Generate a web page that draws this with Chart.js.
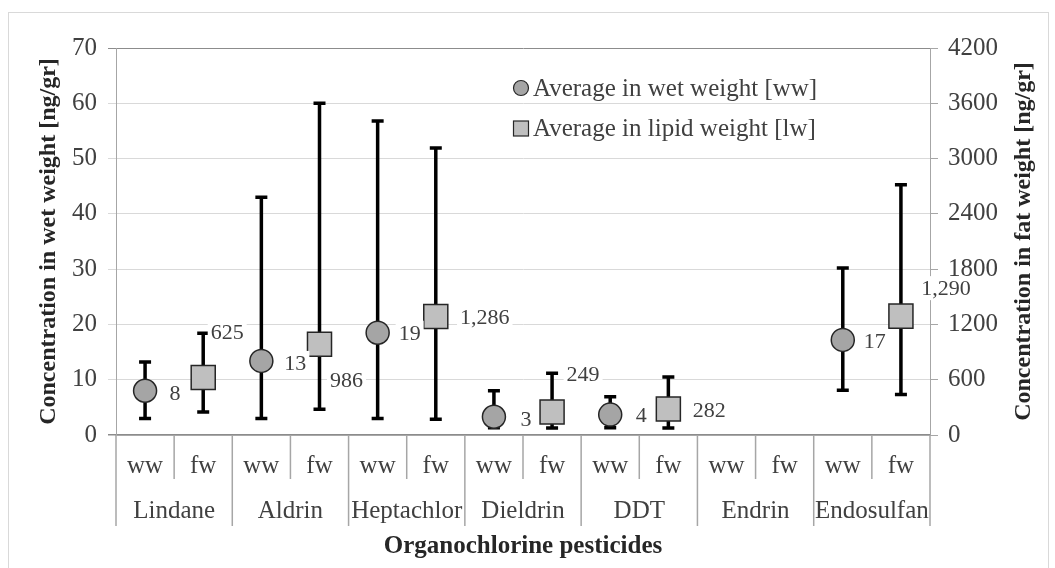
<!DOCTYPE html>
<html>
<head>
<meta charset="utf-8">
<script src="https://cdn.jsdelivr.net/npm/chart.js@4.4.1/dist/chart.umd.min.js"></script>
<style>
  html, body { margin: 0; padding: 0; background: #fff; overflow: hidden; }
  #wrap { position: relative; width: 1055px; height: 568px; }
  #frame { position: absolute; left: 8px; top: 12px; width: 1041px; height: 600px; border: 1.5px solid #d9d9d9; box-sizing: border-box; }
  #c { position: absolute; left: 0; top: 0; }
</style>
</head>
<body>
<div id="wrap">
  <div id="frame"></div>
  <canvas id="c" width="1055" height="568"></canvas>
</div>
<script>
// pesticides and the two sub categories
const groups = ['Lindane', 'Aldrin', 'Heptachlor', 'Dieldrin', 'DDT', 'Endrin', 'Endosulfan'];
const subCats = ['ww', 'fw'];

// wet weight (left axis, ng/gr)
const wwAvg = [8, 13.4, 18.5, 3.3, 3.7, null, 17.2];
const wwMin = [3, 3, 3, 1.3, 1.3, null, 8.1];
const wwMax = [13.2, 43, 56.8, 8, 6.9, null, 30.2];

// lipid / fat weight (right axis, ng/gr)
const lwAvg = [625, 986, 1286, 249, 282, null, 1290];
const lwMin = [250, 280, 170, 75, 75, null, 440];
const lwMax = [1105, 3600, 3115, 670, 630, null, 2715];

// where the value labels sit relative to their marker (dx, dy)
const wwLabelOffsets = [[30, 2], [34, 2], [32, 0], [32, 2], [31, 1], null, [32, 1]];
const lwLabelOffsets = [[24, -45], [27, 36], [49, 1], [31, -38], [41, 1], null, [45, -28]];

const SERIF = '"Liberation Serif", "Times New Roman", serif';
const TXT = '#404040';

const labels = [];
const wwData = [];
const lwData = [];
groups.forEach((g, i) => {
  subCats.forEach(s => labels.push(s));
  wwData.push(wwAvg[i], null);
  lwData.push(null, lwAvg[i]);
});

const fmt = v => Math.round(v).toLocaleString('en-US');

const errorBars = {
  id: 'errorBars',
  beforeDatasetsDraw(chart) {
    const ctx = chart.ctx;
    const x = chart.scales.x;
    const sets = [
      { off: 0, sc: chart.scales.y, min: wwMin, max: wwMax },
      { off: 1, sc: chart.scales.y1, min: lwMin, max: lwMax }
    ];
    ctx.save();
    ctx.strokeStyle = '#000';
    ctx.lineWidth = 3.5;
    sets.forEach(s => {
      groups.forEach((g, i) => {
        if (s.min[i] == null) return;
        const px = x.getPixelForValue(i * 2 + s.off);
        const yt = s.sc.getPixelForValue(s.max[i]);
        const yb = s.sc.getPixelForValue(s.min[i]);
        ctx.beginPath();
        ctx.moveTo(px, yt); ctx.lineTo(px, yb);
        ctx.moveTo(px - 6, yt); ctx.lineTo(px + 6, yt);
        ctx.moveTo(px - 6, yb); ctx.lineTo(px + 6, yb);
        ctx.stroke();
      });
    });
    ctx.restore();
  }
};

const valueLabels = {
  id: 'valueLabels',
  afterDatasetsDraw(chart) {
    const ctx = chart.ctx;
    const x = chart.scales.x;
    const sets = [
      { off: 0, sc: chart.scales.y, vals: wwAvg, offs: wwLabelOffsets },
      { off: 1, sc: chart.scales.y1, vals: lwAvg, offs: lwLabelOffsets }
    ];
    ctx.save();
    ctx.font = '22px ' + SERIF;
    ctx.textAlign = 'center';
    ctx.textBaseline = 'middle';
    sets.forEach(s => {
      s.vals.forEach((v, i) => {
        if (v == null) return;
        const t = fmt(v);
        const px = x.getPixelForValue(i * 2 + s.off) + s.offs[i][0];
        const py = s.sc.getPixelForValue(v) + s.offs[i][1];
        const w = ctx.measureText(t).width;
        ctx.fillStyle = '#fff';
        ctx.fillRect(px - w / 2 - 3, py - 12, w + 6, 24);
        ctx.fillStyle = TXT;
        ctx.fillText(t, px, py + 1);
      });
    });
    ctx.restore();
  }
};

const categoryAxis = {
  id: 'categoryAxis',
  afterDraw(chart) {
    const ctx = chart.ctx;
    const x = chart.scales.x;
    const area = chart.chartArea;
    const step = x.getPixelForValue(1) - x.getPixelForValue(0);
    const top = area.bottom;
    ctx.save();
    ctx.strokeStyle = '#a6a6a6';
    ctx.lineWidth = 1.5;
    ctx.beginPath();
    labels.forEach((l, i) => {
      const left = x.getPixelForValue(i) - step / 2;
      ctx.moveTo(left, top);
      ctx.lineTo(left, i % 2 === 0 ? top + 91 : top + 44);
    });
    const end = x.getPixelForValue(labels.length - 1) + step / 2;
    ctx.moveTo(end, top);
    ctx.lineTo(end, top + 91);
    ctx.stroke();

    ctx.fillStyle = TXT;
    ctx.textAlign = 'center';
    ctx.textBaseline = 'middle';
    ctx.font = '25px ' + SERIF;
    labels.forEach((l, i) => ctx.fillText(l, x.getPixelForValue(i), top + 31));
    groups.forEach((g, i) => {
      const cx = (x.getPixelForValue(i * 2) + x.getPixelForValue(i * 2 + 1)) / 2;
      ctx.fillText(g, cx, top + 76);
    });

    // right title reads bottom to top like the left one
    ctx.font = 'bold 24px ' + SERIF;
    ctx.fillStyle = '#262626';
    ctx.translate(1024, (area.top + area.bottom) / 2);
    ctx.rotate(-Math.PI / 2);
    ctx.fillText('Concentration in fat weight [ng/gr]', 0, 0);
    ctx.restore();
  }
};

const legendBox = {
  id: 'legendBox',
  afterDraw(chart) {
    const ctx = chart.ctx;
    ctx.save();
    ctx.strokeStyle = '#262626';
    ctx.lineWidth = 1.2;
    ctx.fillStyle = '#a5a5a5';
    ctx.beginPath();
    ctx.arc(521, 88, 7.5, 0, Math.PI * 2);
    ctx.fill(); ctx.stroke();
    ctx.fillStyle = '#bfbfbf';
    ctx.fillRect(513.5, 121, 15, 15);
    ctx.strokeRect(513.5, 121, 15, 15);
    ctx.fillStyle = TXT;
    ctx.font = '25px ' + SERIF;
    ctx.textBaseline = 'middle';
    ctx.fillText('Average in wet weight [ww]', 533, 89);
    ctx.fillText('Average in lipid weight [lw]', 533, 129);
    ctx.restore();
  }
};

new Chart(document.getElementById('c'), {
  type: 'line',
  data: {
    labels: labels,
    datasets: [
      {
        label: 'Average in wet weight [ww]',
        data: wwData,
        yAxisID: 'y',
        showLine: false,
        pointStyle: 'circle',
        pointRadius: 11.5,
        backgroundColor: '#a5a5a5',
        borderColor: '#262626',
        pointBorderWidth: 1.5
      },
      {
        label: 'Average in lipid weight [lw]',
        data: lwData,
        yAxisID: 'y1',
        showLine: false,
        pointStyle: 'rect',
        pointRadius: 17,
        backgroundColor: '#bfbfbf',
        borderColor: '#262626',
        pointBorderWidth: 1.5
      }
    ]
  },
  options: {
    responsive: false,
    animation: false,
    events: [],
    layout: { padding: { left: 30, right: 13, top: 48, bottom: 0 } },
    plugins: { legend: { display: false }, tooltip: { enabled: false } },
    scales: {
      x: {
        type: 'category',
        offset: true,
        ticks: { display: false },
        grid: { display: false },
        border: { display: true, color: '#8c8c8c', width: 1.5 },
        title: {
          display: true,
          text: 'Organochlorine pesticides',
          color: '#262626',
          font: { family: SERIF, size: 25, weight: 'bold' },
          padding: { top: 0, bottom: 6 }
        },
        afterFit: s => { s.height = 133; }
      },
      y: {
        position: 'left',
        min: 0, max: 70,
        ticks: { stepSize: 10, color: TXT, padding: 11, font: { family: SERIF, size: 25 } },
        grid: {
          color: c => (c.tick && (c.tick.value === 0 || c.tick.value === 70)) ? '#8c8c8c' : '#d9d9d9',
          lineWidth: c => (c.tick && c.tick.value === 0) ? 1.5 : 1,
          tickLength: 8
        },
        border: { display: true, color: '#a6a6a6' },
        title: {
          display: true,
          text: 'Concentration in wet weight [ng/gr]',
          color: '#262626',
          font: { family: SERIF, size: 24, weight: 'bold' },
          padding: { top: 4, bottom: 4 }
        },
        afterFit: s => { s.width = 86; }
      },
      y1: {
        position: 'right',
        min: 0, max: 4200,
        ticks: { stepSize: 600, color: TXT, padding: 10, font: { family: SERIF, size: 25 }, callback: v => String(v) },
        grid: { drawOnChartArea: false, color: '#a6a6a6', tickLength: 8 },
        border: { display: true, color: '#a6a6a6' },
        afterFit: s => { s.width = 112; }
      }
    }
  },
  plugins: [errorBars, valueLabels, categoryAxis, legendBox]
});
</script>
</body>
</html>
